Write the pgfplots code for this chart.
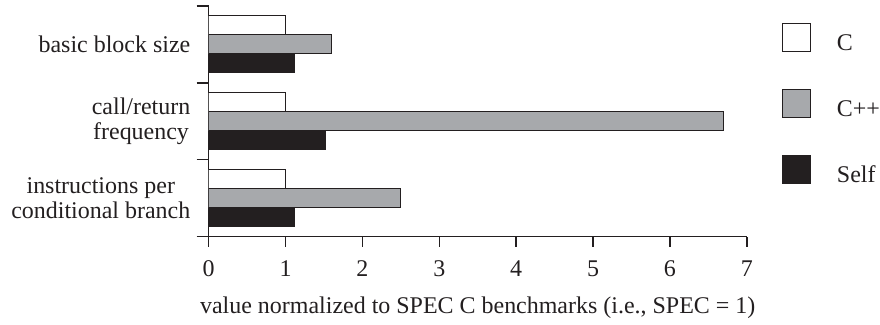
\documentclass[border=0pt]{standalone}
\usepackage{fontspec}
\setmainfont{Liberation Serif}
\usepackage{pgfplots}
\pgfplotsset{compat=1.18}
\definecolor{ink}{HTML}{231F20}
\definecolor{midgray}{HTML}{A7A9AC}
\begin{document}
\begin{tikzpicture}
\begin{axis}[
  at={(0pt,0pt)}, anchor=south west,
  scale only axis, width=269.5pt, height=115.5pt,
  xmin=0, xmax=7, ymin=0.5, ymax=3.5,
  axis x line*=bottom, axis y line*=left,
  axis line style={ink, line width=0.75pt},
  xtick={0,...,7},
  ytick={1,2,3},
  yticklabels={{instructions per\\conditional branch},{call/return\\frequency},{basic block size}},
  minor ytick={0.5,1.5,2.5,3.5},
  tick align=outside,
  major tick length=5pt, minor tick length=6pt,
  major x tick style={ink, line width=0.75pt},
  major y tick style={draw=none},
  minor y tick style={ink, line width=0.75pt},
  /pgf/number format/assume math mode=true,
  tick label style={font=\fontsize{12}{12.8}\selectfont, text=ink},
  xticklabel style={yshift=-3.5pt},
  yticklabel style={align=center, inner sep=0pt, xshift=-4pt},
  xlabel={value normalized to SPEC C benchmarks (i.e., SPEC = 1)},
  xlabel style={font=\fontsize{12}{12.5}\selectfont, text=ink, yshift=-3pt},
  xbar, bar width=9.5pt,
  legend style={at={(axis description cs:1.0649,0.9264)}, anchor=north west,
    draw=none, fill=none, inner sep=0pt, row sep=18pt,
    font=\fontsize{12}{12.5}\selectfont, text=ink,
    nodes={inner sep=0pt},
    /tikz/every odd column/.append style={column sep=13pt}},
  legend cell align=left,
  legend image code/.code={\draw[#1, line width=0.5pt] (0pt,-3.95pt) rectangle (14pt,10.05pt);},
]
\addplot[draw=ink, fill=white, line width=0.5pt, bar shift=9.5pt] coordinates {(1,1) (1,2) (1,3)};
\addplot[draw=ink, fill=midgray, line width=0.5pt, bar shift=0pt] coordinates {(2.5,1) (6.7,2) (1.6,3)};
\addplot[draw=ink, fill=ink, line width=0.5pt, bar shift=-9.5pt] coordinates {(1.12,1) (1.52,2) (1.12,3)};
\legend{C, C++, Self}
\end{axis}
\path[use as bounding box] (-104.5pt,-41.5pt) rectangle (335.5pt,118.5pt);
\end{tikzpicture}
\end{document}
